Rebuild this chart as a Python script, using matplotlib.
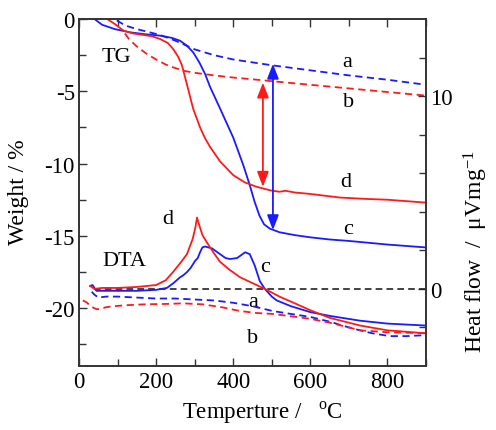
import matplotlib
matplotlib.use("Agg")
import matplotlib.pyplot as plt
from matplotlib.ticker import MultipleLocator, FixedLocator

plt.rcParams['font.family'] = ['Liberation Serif', 'DejaVu Serif']
plt.rcParams['mathtext.fontset'] = 'custom'
plt.rcParams['mathtext.rm'] = 'Liberation Serif'
plt.rcParams['axes.unicode_minus'] = False

# ---------------- TG data (left axis, Weight / %) ----------------
tg_a_T = [98, 120, 150, 180, 210, 250, 300, 350, 400, 450, 500, 600, 700, 800, 900]
tg_a_w = [-0.1, -0.45, -0.7, -0.9, -1.1, -1.5, -2.1, -2.5, -2.8, -3.0, -3.2, -3.55, -3.9, -4.2, -4.55]

tg_b_T = [119, 130, 150, 175, 200, 225, 250, 275, 300, 350, 400, 450, 500, 600, 700, 800, 900]
tg_b_w = [-1.0, -1.4, -1.9, -2.4, -2.8, -3.15, -3.4, -3.6, -3.72, -3.9, -4.05, -4.17, -4.3, -4.55, -4.8, -5.05, -5.3]

tg_c_T = [40, 60, 93, 132, 170, 210, 240, 262, 280, 296, 312, 327, 340, 366, 400, 426, 443, 455, 468,
          480, 495, 520, 560, 600, 650, 700, 800, 900]
tg_c_w = [0, -0.4, -0.7, -0.92, -1.05, -1.15, -1.3, -1.5, -1.85, -2.3, -3.0, -3.8, -4.7, -6.2, -8.2,
          -10.1, -11.5, -12.6, -13.6, -14.2, -14.5, -14.75, -14.95, -15.1, -15.25, -15.35, -15.6, -15.8]

tg_d_T = [73, 93, 115, 140, 166, 190, 210, 230, 244, 257, 267, 283, 296, 314, 327, 340, 366, 400, 430, 460,
          496, 520, 535, 560, 600, 677, 750, 800, 900]
tg_d_w = [0, -0.35, -0.8, -1.0, -1.1, -1.2, -1.38, -1.65, -2.07, -2.6, -3.2, -4.84, -6.2, -7.5, -8.25, -8.85,
          -9.85, -10.8, -11.3, -11.6, -11.85, -11.95, -11.88, -12.0, -12.1, -12.35, -12.45, -12.5, -12.7]

# ---------------- DTA data (right axis, Heat flow) ----------------
dta_a_T = [33, 40, 50, 70, 100, 150, 200, 250, 300, 350, 400, 450, 503, 550, 599, 650, 700, 729,
           760, 806, 850, 898]
dta_a_h = [-0.15, -0.3, -0.45, -0.4, -0.4, -0.45, -0.5, -0.5, -0.55, -0.6, -0.72, -0.9, -1.15, -1.3,
           -1.45, -1.7, -2.0, -2.15, -2.3, -2.45, -2.45, -2.4]

dta_b_T = [10, 20, 30, 45, 55, 70, 90, 120, 170, 228, 270, 320, 370, 418, 460, 503, 550, 599, 650,
           700, 729, 800, 898]
dta_b_h = [-0.6, -0.7, -0.9, -1.05, -1.05, -0.95, -0.9, -0.85, -0.8, -0.78, -0.75, -0.8, -0.95, -1.15,
           -1.25, -1.3, -1.42, -1.55, -1.75, -2.0, -2.15, -2.25, -2.3]

dta_c_T = [29, 35, 45, 100, 150, 200, 228, 245, 262, 270, 280, 290, 301, 308, 314, 320, 327, 345,
           366, 380, 392, 410, 431, 443, 456, 469, 482, 500, 513, 550, 599, 650, 729, 800, 898]
dta_c_h = [0.15, 0.2, -0.1, -0.1, -0.1, -0.05, 0.05, 0.3, 0.6, 0.7, 0.87, 1.1, 1.45, 1.6, 1.9, 2.15,
           2.2, 2.1, 1.8, 1.6, 1.55, 1.6, 1.9, 1.8, 1.2, 0.4, 0.0, -0.4, -0.6, -0.9, -1.2, -1.4,
           -1.65, -1.8, -1.9]

dta_d_T = [29, 40, 60, 100, 150, 200, 225, 245, 265, 280, 295, 302, 306, 312, 320, 332, 350, 366, 390,
           418, 450, 482, 520, 560, 599, 650, 729, 800, 898]
dta_d_h = [0.15, 0.0, 0.05, 0.05, 0.1, 0.2, 0.45, 0.9, 1.4, 1.8, 2.6, 3.2, 3.7, 3.3, 2.8, 2.4, 1.85, 1.4,
           1.0, 0.6, 0.3, 0.0, -0.4, -0.75, -1.1, -1.5, -1.9, -2.15, -2.3]

baseline_T = [38, 900]
baseline_h = [0, 0]

# arrows (Temperature, weight start, weight end)
red_arrow = (477, -4.4, -11.6)
blue_arrow = (503, -3.1, -14.6)

BLUE = '#1a1aff'
RED = '#ff1a1a'

fig = plt.figure(figsize=(4.96, 4.31), dpi=100)
ax = fig.add_axes([79/496, 1-367/431, (426-79)/496, (367-20)/431])
ax2 = ax.twinx()

lw = 1.3
dash = (0, (4, 2.5))
ax.plot(tg_a_T, tg_a_w, color=BLUE, ls=dash, lw=lw)
ax.plot(tg_b_T, tg_b_w, color=RED, ls=dash, lw=lw)
ax.plot(tg_c_T, tg_c_w, color=BLUE, lw=lw)
ax.plot(tg_d_T, tg_d_w, color=RED, lw=lw)

ax2.plot(baseline_T, baseline_h, color='#222222', ls=dash, lw=1.2)
ax2.plot(dta_a_T, dta_a_h, color=BLUE, ls=dash, lw=lw)
ax2.plot(dta_b_T, dta_b_h, color=RED, ls=dash, lw=lw)
ax2.plot(dta_c_T, dta_c_h, color=BLUE, lw=lw)
ax2.plot(dta_d_T, dta_d_h, color=RED, lw=lw)

for (x, y0, y1), col in [(red_arrow, RED), (blue_arrow, BLUE)]:
    ax.annotate('', xy=(x, y1), xytext=(x, y0),
                arrowprops=dict(arrowstyle='<|-|>,head_length=0.9,head_width=0.35',
                                color=col, lw=1.3, shrinkA=0, shrinkB=0))

ax.set_xlim(0, 900)
ax.set_ylim(-24, 0)
ax2.set_ylim(-4, 14)

fs = 16.5
ax.xaxis.set_major_locator(MultipleLocator(200))
ax.xaxis.set_minor_locator(MultipleLocator(100))
ax.yaxis.set_major_locator(MultipleLocator(5))
ax.yaxis.set_minor_locator(MultipleLocator(2.5))
ax2.yaxis.set_major_locator(FixedLocator([0, 10]))
ax2.yaxis.set_minor_locator(FixedLocator([-2, 2, 4, 6, 8, 12]))

ax.tick_params(axis='both', which='both', direction='in', labelsize=fs, width=1.0,
               top=True, right=False, color='#333333')
ax.tick_params(which='major', length=6)
ax.tick_params(which='minor', length=5)
ax.tick_params(axis='y', pad=3)
ax2.tick_params(axis='y', which='both', direction='in', labelsize=fs, width=1.0, color='#333333', pad=3)
ax2.tick_params(which='major', length=6)
ax2.tick_params(which='minor', length=5)

for a in (ax, ax2):
    for s in a.spines.values():
        s.set_linewidth(1.2)
        s.set_color('#333333')

ax.set_ylabel('Weight / %', fontsize=17)
ax.yaxis.set_label_coords((29 - 79) / 347, (367 - 192) / 347)
ax.set_xlabel('Temperture /   $^{\\mathrm{o}}$C', fontsize=16.5)
ax.xaxis.set_label_coords((262 - 79) / 347, (367 - 400) / 347)
ax2.set_ylabel('Heat flow  /  $\\mathrm{\\mu Vmg^{-1}}$', fontsize=17)
ax2.yaxis.set_label_coords((462 - 79) / 347, (367 - 252) / 347)

tfs = 16
ax.text(98, -2.56, 'TG', fontsize=tfs, ha='center', va='center')
ax.text(117, -16.67, 'DTA', fontsize=tfs, ha='center', va='center')
ax.text(695, -2.97, 'a', fontsize=tfs, ha='center', va='center')
ax.text(698, -5.74, 'b', fontsize=tfs, ha='center', va='center')
ax.text(692, -11.27, 'd', fontsize=tfs, ha='center', va='center')
ax.text(698, -14.52, 'c', fontsize=tfs, ha='center', va='center')
ax.text(231, -13.83, 'd', fontsize=tfs, ha='center', va='center')
ax.text(482, -17.15, 'c', fontsize=tfs, ha='center', va='center')
ax.text(451, -19.57, 'a', fontsize=tfs, ha='center', va='center')
ax.text(449, -22.0, 'b', fontsize=tfs, ha='center', va='center')

fig.savefig('out.png', dpi=100)
